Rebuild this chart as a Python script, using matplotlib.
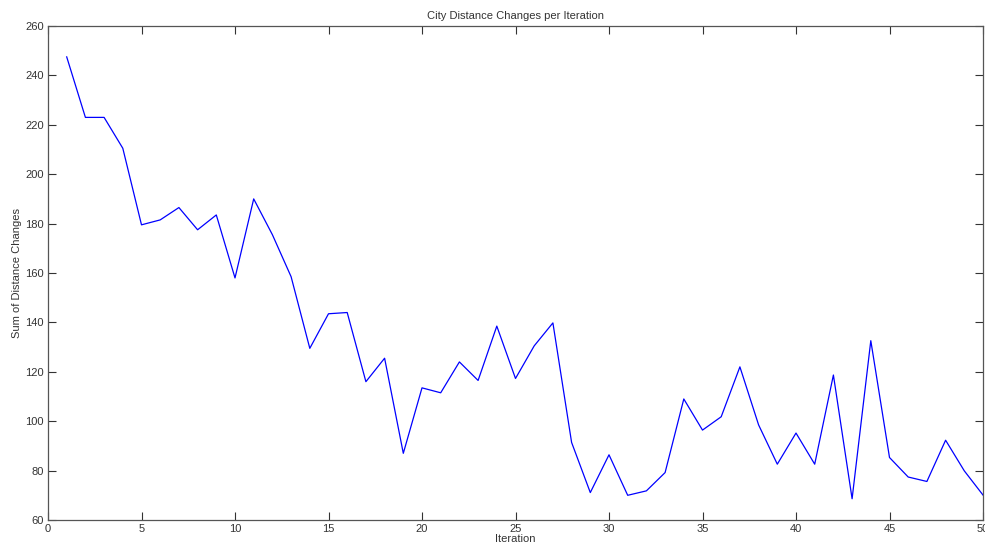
import matplotlib.pyplot as plt
import numpy as np

# Sum of city distance changes, one per iteration
iterations = list(range(1, 51))
distance_changes = [
    247.5, 223.0, 223.0, 210.5, 179.5, 181.5, 186.5, 177.5, 183.5, 158.0,
    190.0, 175.5, 158.5, 129.5, 143.5, 144.0, 116.0, 125.5, 87.0, 113.5,
    111.5, 124.0, 116.5, 138.5, 117.3, 130.5, 139.8, 91.4, 71.1, 86.4,
    70.0, 71.8, 79.2, 109.0, 96.4, 101.8, 122.0, 98.5, 82.6, 95.2,
    82.6, 118.7, 68.6, 132.6, 85.3, 77.4, 75.6, 92.3, 79.9, 70.1,
]
x_ticks = [0, 5, 10, 15, 20, 25, 30, 35, 40, 45, 50]
y_ticks = [60, 80, 100, 120, 140, 160, 180, 200, 220, 240, 260]

plt.rcParams['font.family'] = ['Liberation Sans', 'DejaVu Sans']

fig = plt.figure(figsize=(9.85, 5.48), dpi=100)
ax = fig.add_axes([48 / 985, 1 - 520 / 548, 935 / 985, 494 / 548])

ax.plot(iterations, distance_changes, color='#0000ff', lw=0.9)

ax.set_xlim(0, 50)
ax.set_ylim(60, 260)
ax.set_xticks(x_ticks)
ax.set_yticks(y_ticks)

# MATLAB-like box with inward ticks on all sides
ax.tick_params(direction='in', length=6, width=0.8, top=True, right=True,
               labelsize=8, colors='#333333', pad=3)
for s in ax.spines.values():
    s.set_color('#555555')
    s.set_linewidth(0.9)

ax.set_title('City Distance Changes per Iteration', fontsize=8, color='#333333', pad=5)
ax.set_xlabel('Iteration', fontsize=8, color='#333333', labelpad=0)
ax.set_ylabel('Sum of Distance Changes', fontsize=8, color='#333333', labelpad=2)

fig.savefig('out.png', dpi=100)
